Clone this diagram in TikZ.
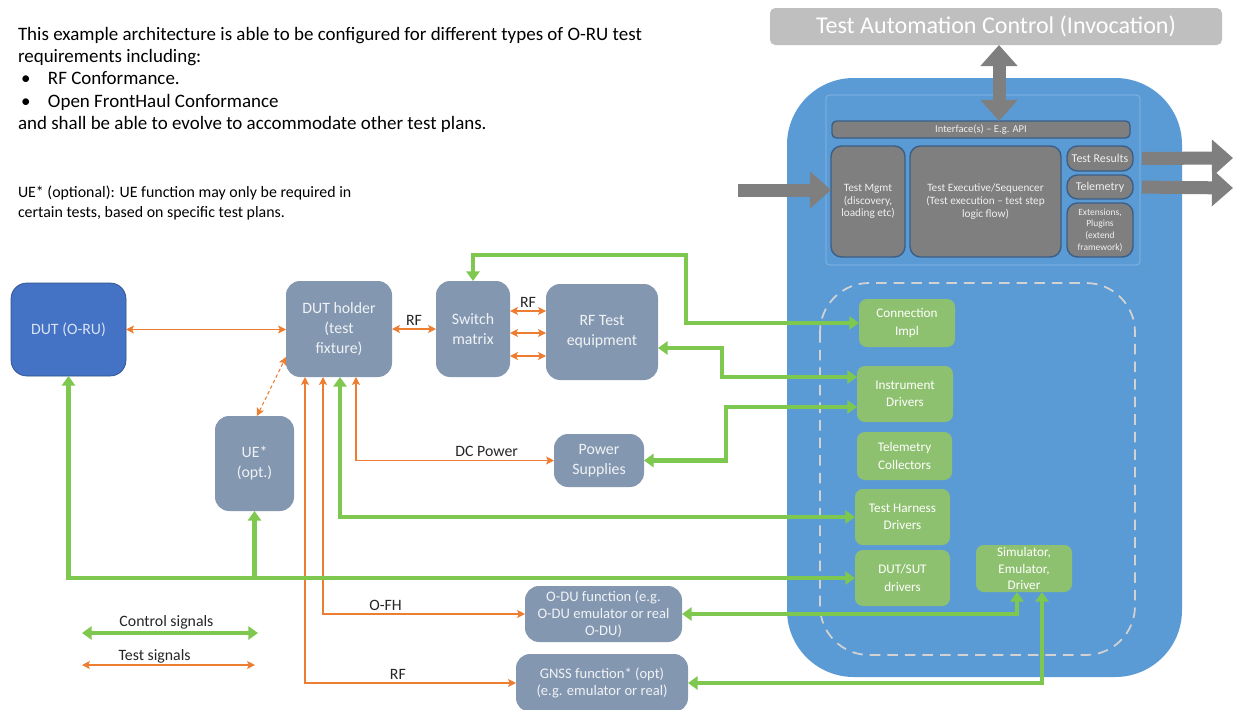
\documentclass[tikz,border=0pt]{standalone}
\usepackage{fontspec}
\setmainfont{Carlito}
\usepackage{tikz}
\usetikzlibrary{arrows.meta}

\definecolor{fwblue}{HTML}{5B9BD5}
\definecolor{dutblue}{HTML}{4472C4}
\definecolor{slate}{HTML}{8497B0}
\definecolor{drvgreen}{HTML}{8EC16F}
\definecolor{ctrlgreen}{HTML}{7EC850}
\definecolor{testorange}{HTML}{ED7D31}
\definecolor{fwgray}{HTML}{7F7F7F}
\definecolor{fwedge}{HTML}{3B5E86}
\definecolor{tacgray}{HTML}{BFBFBF}

\begin{document}
\begin{tikzpicture}[x=0.02cm,y=-0.02cm,
  every node/.style={inner sep=0pt,outer sep=0pt},
  sz/.style 2 args={minimum width=#1*\px,minimum height=#2*\px},
  slate/.style={fill=slate,rounded corners=8pt,text=white!88!slate,align=center,font=\fontsize{9}{11.3}\selectfont},
  drv/.style={fill=drvgreen,rounded corners=4.5pt,text=white,align=center,font=\fontsize{7.5}{9.8}\selectfont},
  fw/.style={fill=fwgray,draw=fwedge,line width=0.8pt,rounded corners=6pt,text=white!88!fwgray,align=center,font=\fontsize{6.4}{7.2}\selectfont},
  ctrl/.style={draw=ctrlgreen,line width=2.3pt,>={Triangle[length=5.5pt,width=7.5pt]}},
  test/.style={draw=testorange,line width=0.6pt,>={Stealth[length=4.5pt,width=4.5pt,inset=1pt]}},
  bigarrow/.style={draw=fwgray,line width=7.4pt,>={Triangle[length=12pt,width=20.5pt]}},
  lbl/.style={font=\fontsize{9}{11}\selectfont,text=black!85,inner sep=2pt}]
			\def\px{0.02cm}
			
			\useasboundingbox (0,0) rectangle (1238,710);
			\fill[white] (0,0) rectangle (1238,710);
			
			% notes
			\node[anchor=north west,align=left,font=\fontsize{10.8}{12.75}\selectfont] (intro) at (18,27)
			{This example architecture is able to be configured for different types of O-RU test\\
			requirements including:\\
			\hspace*{0.06cm}\makebox[0.54cm][l]{\textbullet}RF Conformance.\\
			\hspace*{0.06cm}\makebox[0.54cm][l]{\textbullet}Open FrontHaul Conformance\\
			and shall be able to evolve to accommodate other test plans.};
			\node[anchor=north west,align=left,font=\fontsize{9.05}{11.3}\selectfont] (uenote) at (18,186)
			{UE* (optional): UE function may only be required in\\certain tests, based on specific test plans.};
			
			% framework
			\draw[fill=fwblue,draw=none,rounded corners=38pt] (787,78) rectangle (1182,677);
			\draw[white!30!fwblue,rounded corners=2pt] (826,95) rectangle (1140,265);
			\draw[gray!35,line width=1pt,dash pattern=on 6pt off 4pt,rounded corners=28pt] (820,283) rectangle (1135,655);
			
			\node[fill=tacgray,rounded corners=3pt,sz={452}{37},text=white,font=\fontsize{13.7}{16}\selectfont] (tac) at (996,26.5) {Test Automation Control (Invocation)};
			
			\node[fw,sz={298}{17},rounded corners=2.5pt,font=\fontsize{6}{7}\selectfont] (iface) at (981,129.5) {Interface(s) – E.g. API};
			\node[fw,sz={74}{111}] (mgmt) at (868,201.5) {Test Mgmt\\(discovery,\\loading etc)};
			\node[fw,sz={151}{111}] (exec) at (985.5,201.5) {Test Executive/Sequencer\\(Test execution – test step\\logic flow)};
			\node[fw,sz={66}{25},font=\fontsize{6.8}{8}\selectfont] (results) at (1100,158.5) {Test Results};
			\node[fw,sz={66}{24},font=\fontsize{6.8}{8}\selectfont] (telemetry) at (1100,187) {Telemetry};
			\node[fw,sz={66}{54},font=\fontsize{5.4}{6.6}\selectfont] (ext) at (1100,230) {Extensions,\\Plugins\\(extend\\framework)};
			
			\coordinate (mgmtin) at (738,190);
			\coordinate (resout) at (1233,158);
			\coordinate (telout) at (1233,188);
			\draw[bigarrow,<->] (tac.south -| 999,0) -- (iface.north -| 999,0);
			\draw[bigarrow,->] (mgmtin) -- (mgmt.west |- mgmtin);
			\draw[bigarrow,->,shorten <=5pt] (results.east) -- (resout);
			\draw[bigarrow,->,shorten <=5pt] (telemetry.east) -- (telout);
			
			\node[drv,sz={96}{48}] (conn) at (907,323) {Connection\\Impl};
			\node[drv,sz={96}{56}] (inst) at (905,394) {Instrument\\Drivers};
			\node[drv,sz={95}{48}] (telcol) at (904.5,456) {Telemetry\\Collectors};
			\node[drv,sz={95}{56}] (harness) at (902.5,517) {Test Harness\\Drivers};
			\node[drv,sz={95}{56}] (dutsut) at (902.5,578) {DUT/SUT\\drivers};
			\node[drv,sz={96}{47},font=\fontsize{7.5}{9.5}\selectfont] (sim) at (1024,568.5) {Simulator,\\Emulator,\\Driver};
			
			% test setup
			\node[fill=dutblue,draw=dutblue!70!black,line width=0.4pt,rounded corners=9pt,sz={115}{93},text=white!80!dutblue,font=\fontsize{9}{11.3}\selectfont] (dut) at (68.5,329.5) {DUT (O-RU)};
			\node[slate,sz={106}{96}] (holder) at (339,329) {DUT holder\\(test\\fixture)};
			\node[slate,sz={74}{96}] (sw) at (473,329) {Switch\\matrix};
			\node[slate,sz={112}{96}] (rftest) at (602,332) {RF Test\\equipment};
			\node[slate,sz={79}{95}] (ue) at (254.5,463.5) {UE*\\(opt.)};
			\node[slate,sz={90}{53}] (power) at (599,460.5) {Power\\Supplies};
			\node[slate,sz={157}{56},font=\fontsize{8.3}{9.6}\selectfont] (odu) at (603.5,614) {O-DU function (e.g.\\O-DU emulator or real\\O-DU)};
			\node[slate,sz={172}{58},font=\fontsize{8.3}{9.6}\selectfont] (gnss) at (602,683) {GNSS function* (opt)\\(e.g. emulator or real)};
			
			% test signals
			\draw[test,<->] (dut.east) -- (holder.west |- dut.east);
			\draw[test,<->] (holder.east) -- node[lbl,above]{RF} (sw.west);
			\draw[test,<->] (sw.east |- 0,311) -- node[lbl,above]{RF} (rftest.west |- 0,311);
			\draw[test,<->] (sw.east |- 0,333) -- (rftest.west |- 0,333);
			\draw[test,<->] (sw.east |- 0,356) -- (rftest.west |- 0,356);
			\draw[test,<->,dash pattern=on 2pt off 1.5pt] (ue.north -| 257,0) -- (holder.west |- 0,357);
			\draw[test,<->] (holder.south -| 356,0) |- node[lbl,pos=0.83,above]{DC Power} (power.west);
			\draw[test,<->] (holder.south -| 323,0) |- node[lbl,pos=0.655,above]{O-FH} (odu.west);
			\draw[test,<->] (holder.south -| 305,0) |- node[lbl,pos=0.72,above]{RF} (gnss.west);
			
			% control signals
			\coordinate (swbend) at (686,255);
			\coordinate (rfbend) at (722,377);
			\coordinate (psbend) at (726,407);
			\draw[ctrl,<->] (sw.north) |- (swbend) |- (conn.west);
			\draw[ctrl,<->] (rftest.east |- 0,348) -| (rfbend) -- (inst.west |- rfbend);
			\draw[ctrl,<->] (power.east) -| (psbend) -- (inst.west |- psbend);
			\draw[ctrl,<->] (holder.south -| 340,0) |- (harness.west);
			\draw[ctrl,<->] (dut.south) |- (dutsut.west);
			\draw[ctrl,->] (ue.south |- dutsut.west) -- (ue.south);
			\draw[ctrl,<->] (odu.east) -| (sim.south -| 1017,0);
			\draw[ctrl,<->] (gnss.east) -| (sim.south -| 1042,0);
			
			% legend
			\coordinate (ctrlL) at (82,633);
			\coordinate (ctrlR) at (258,633);
			\coordinate (testL) at (82,665);
			\coordinate (testR) at (255,665);
			\draw[ctrl,<->] (ctrlL) -- node[lbl,above,pos=0.48]{Control signals} (ctrlR);
			\draw[test,<->] (testL) -- node[lbl,above,pos=0.42,inner sep=1pt]{Test signals} (testR);
		\end{tikzpicture}
\end{document}
